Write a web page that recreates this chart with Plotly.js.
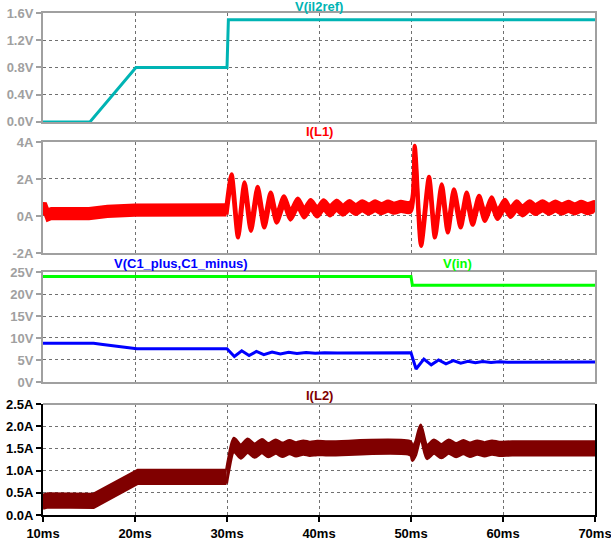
<!DOCTYPE html>
<html>
<head>
<meta charset="utf-8">
<script src="https://cdn.plot.ly/plotly-3.0.1.min.js"></script>
<style>html,body{margin:0;padding:0;background:#fff;}#chart{width:611px;height:542px;}</style>
</head>
<body>
<div id="chart"></div>
<script>
// ---- data (time in ms) ----
const xTickVals = [10, 20, 30, 40, 50, 60, 70];
const xTickText = ['10ms', '20ms', '30ms', '40ms', '50ms', '60ms', '70ms'];

const y1TickVals = [0, 0.4, 0.8, 1.2, 1.6];
const y1TickText = ['0.0V', '0.4V', '0.8V', '1.2V', '1.6V'];
const y2TickVals = [-2, 0, 2, 4];
const y2TickText = ['-2A', '0A', '2A', '4A'];
const y3TickVals = [0, 5, 10, 15, 20, 25];
const y3TickText = ['0V', '5V', '10V', '15V', '20V', '25V'];
const y4TickVals = [0, 0.5, 1.0, 1.5, 2.0, 2.5];
const y4TickText = ['0.0A', '0.5A', '1.0A', '1.5A', '2.0A', '2.5A'];

// V(il2ref)
const tIl2ref = [10, 15.1, 20.1, 30.0, 30.15, 70];
const vIl2ref = [0, 0, 0.8, 0.8, 1.5, 1.5];

// V(in)
const tVin = [10, 50.0, 50.15, 70];
const vVin = [24, 24, 22, 22];

// V(C1_plus,C1_minus)
const tVc1 = [10, 15.5, 16.5, 18, 20.2, 30.0, 30.8, 31.6, 32.4, 33.2, 34.0, 34.9, 35.8, 36.7, 37.6, 38.6, 39.6, 40.6, 42, 50.0,
              50.55, 51.4, 52.2, 53.0, 53.8, 54.6, 55.4, 56.2, 57.0, 57.8, 58.7, 59.6, 60.5, 70];
const vVc1 = [8.8, 8.8, 8.5, 8.1, 7.55, 7.55, 5.8, 7.1, 6.0, 6.95, 6.2, 6.8, 6.35, 6.75, 6.45, 6.7, 6.55, 6.65, 6.6, 6.65,
              2.95, 5.2, 3.9, 5.0, 4.1, 4.85, 4.25, 4.7, 4.35, 4.65, 4.45, 4.6, 4.5, 4.55];

// I(L1) mid-band values and switching ripple (A, peak-to-peak of band core)
const tIL1 = [10, 10.2, 10.5, 10.9, 15.0, 17.0, 20.0, 25.0, 29.95,
              30.5, 31.2, 31.9, 32.6, 33.33, 34.05, 34.75, 35.4, 36.2, 36.9, 37.7, 38.4, 39.1, 39.8, 40.5, 41.2, 41.9, 42.6,
              43.3, 44.0, 44.7, 45.4, 46.1, 46.8, 47.5, 48.2, 48.9, 49.95,
              50.4, 51.1, 51.96, 52.6, 53.34, 54.0, 54.67, 55.4, 56.05, 56.7, 57.4, 58.04, 58.77, 59.4, 60.2, 60.8, 61.5, 62.1,
              62.9, 63.5, 64.3, 65.0, 65.7, 66.4, 67.1, 67.8, 68.5, 69.2, 69.9, 70];
const iIL1 = [0.3, 0.45, 0.05, 0.13, 0.13, 0.25, 0.32, 0.33, 0.33,
              2.0, -0.92, 1.57, -0.56, 1.33, -0.38, 1.02, -0.11, 0.82, 0.05, 0.70, 0.17, 0.62, 0.22, 0.6, 0.28, 0.58, 0.32,
              0.56, 0.35, 0.55, 0.38, 0.54, 0.4, 0.53, 0.42, 0.52, 0.48,
              3.55, -1.37, 1.87, -0.92, 1.47, -0.65, 1.2, -0.38, 1.02, -0.23, 0.85, -0.02, 0.76, 0.08, 0.63, 0.2, 0.55, 0.28,
              0.55, 0.35, 0.55, 0.37, 0.53, 0.38, 0.52, 0.39, 0.52, 0.4, 0.5, 0.48];
const rippleIL1 = 0.5;

// I(L2)
const tIL2 = [10, 10.5, 15.5, 20.3, 29.95, 30.15, 30.75, 31.5, 32.25, 33.0, 33.8, 34.5, 35.3, 36.0, 36.8, 37.5, 38.3, 39.0, 39.8, 41,
              49.95, 50.15, 50.5, 51.05, 51.75, 52.5, 53.3, 54.1, 54.9, 55.7, 56.4, 57.2, 58.0, 58.8, 59.6, 61, 70];
const iIL2 = [0.3, 0.33, 0.32, 0.86, 0.86, 1.1, 1.58, 1.43, 1.56, 1.45, 1.55, 1.46, 1.54, 1.47, 1.53, 1.48, 1.52, 1.49, 1.51, 1.5,
              1.5, 1.38, 1.5, 1.88, 1.42, 1.54, 1.44, 1.54, 1.46, 1.53, 1.47, 1.52, 1.48, 1.52, 1.49, 1.5, 1.5];
const rippleIL2 = 0.3;

// ---- styles ----
const FONT = 'Liberation Sans, Arial, sans-serif';
const GREY = '#a0a0a0';
const GRID = '#707070';
const C_TEAL = '#00b4b4', C_RED = '#ff0000', C_BLUE = '#0000ff', C_GREEN = '#00ff00', C_DRED = '#800000';

function bandPart(t, c, ripple, color, xa, ya, w, shape) {
  const up = c.map(v => v + ripple / 2);
  const lo = c.map(v => v - ripple / 2);
  const ln = {color: color, width: w, shape: shape};
  if (shape === 'spline') ln.smoothing = 0.8;
  return [
    {x: t, y: up, xaxis: xa, yaxis: ya, type: 'scatter', mode: 'lines', hoverinfo: 'skip', line: ln},
    {x: t, y: lo, xaxis: xa, yaxis: ya, type: 'scatter', mode: 'lines', hoverinfo: 'skip', fill: 'tonexty', fillcolor: color, line: ln}
  ];
}
// steady start drawn straight, transient part drawn smooth
function band(t, c, ripple, color, xa, ya, w, splitT) {
  const k = t.indexOf(splitT);
  return [
    ...bandPart(t.slice(0, k + 1), c.slice(0, k + 1), ripple, color, xa, ya, w, 'linear'),
    ...bandPart(t.slice(k), c.slice(k), ripple, color, xa, ya, w, 'spline')
  ];
}

const traces = [
  {x: tIl2ref, y: vIl2ref, xaxis: 'x', yaxis: 'y', type: 'scatter', mode: 'lines', hoverinfo: 'skip',
   line: {color: C_TEAL, width: 3}},
  ...band(tIL1, iIL1, rippleIL1, C_RED, 'x2', 'y2', 4, 29.95),
  {x: tVin, y: vVin, xaxis: 'x3', yaxis: 'y3', type: 'scatter', mode: 'lines', hoverinfo: 'skip',
   line: {color: C_GREEN, width: 3}},
  {x: tVc1, y: vVc1, xaxis: 'x3', yaxis: 'y3', type: 'scatter', mode: 'lines', hoverinfo: 'skip',
   line: {color: C_BLUE, width: 3}},
  ...band(tIL2, iIL2, rippleIL2, C_DRED, 'x4', 'y4', 3, 29.95)
];

function xAx(anchor, last) {
  const a = {
    anchor: anchor, domain: [0, 1], range: [10, 70], tickvals: xTickVals, ticktext: xTickText,
    showgrid: true, gridcolor: GRID, griddash: 'dot', gridwidth: 1, zeroline: false,
    showline: true, mirror: true, linecolor: GREY, linewidth: 2,
    showticklabels: false, ticks: '', fixedrange: true
  };
  if (last) {
    a.showticklabels = true; a.ticks = 'outside'; a.ticklen = 5; a.tickwidth = 2; a.tickcolor = '#000';
    a.linecolor = '#000'; a.mirror = false; a.ticklabeloverflow = 'allow';
    a.tickfont = {family: FONT, size: 13, color: '#000', weight: 'bold'};
  } else {
    a.matches = 'x4';
  }
  return a;
}
function yAx(anchor, dom, range, tv, tt, color, lineColor) {
  return {
    anchor: anchor, domain: dom, range: range, tickvals: tv, ticktext: tt,
    showgrid: true, gridcolor: GRID, griddash: 'dot', gridwidth: 1, zeroline: false,
    showline: true, mirror: true, linecolor: lineColor, linewidth: 2,
    ticks: 'outside', ticklen: 5, tickwidth: 2, tickcolor: lineColor, ticklabeloverflow: 'allow',
    tickfont: {family: FONT, size: 13, color: color, weight: 'bold'}, fixedrange: true
  };
}

const titleFont = (c) => ({family: FONT, size: 13, color: c, weight: 'bold'});

const layout = {
  width: 611, height: 542,
  margin: {l: 43, r: 16, t: 13, b: 27, pad: 0},
  paper_bgcolor: '#ffffff', plot_bgcolor: '#ffffff',
  showlegend: false,
  font: {family: FONT, size: 13},
  xaxis: xAx('y', false),
  xaxis2: xAx('y2', false),
  xaxis3: xAx('y3', false),
  xaxis4: xAx('y4', true),
  yaxis: yAx('x', [0.783, 1], [0, 1.6], y1TickVals, y1TickText, GREY, GREY),
  yaxis2: yAx('x2', [0.522, 0.743], [-2, 4], y2TickVals, y2TickText, GREY, GREY),
  yaxis3: yAx('x3', [0.265, 0.484], [0, 25], y3TickVals, y3TickText, GREY, GREY),
  yaxis4: yAx('x4', [0, 0.221], [0, 2.5], y4TickVals, y4TickText, '#000', '#000'),
  shapes: [
    {type: 'line', xref: 'paper', x0: 0, x1: 1, yref: 'y4 domain', y0: 1, y1: 1, line: {color: GREY, width: 2}}
  ],
  annotations: [
    {text: 'V(il2ref)', xref: 'paper', x: 0.5, xanchor: 'center', yref: 'y domain', y: 1, yanchor: 'middle', yshift: 7, showarrow: false, font: titleFont(C_TEAL)},
    {text: 'I(L1)', xref: 'paper', x: 0.5, xanchor: 'center', yref: 'y2 domain', y: 1, yanchor: 'middle', yshift: 11, showarrow: false, font: titleFont(C_RED)},
    {text: 'V(C1_plus,C1_minus)', xref: 'paper', x: 0.25, xanchor: 'center', yref: 'y3 domain', y: 1, yanchor: 'middle', yshift: 9, showarrow: false, font: titleFont(C_BLUE)},
    {text: 'V(in)', xref: 'paper', x: 0.75, xanchor: 'center', yref: 'y3 domain', y: 1, yanchor: 'middle', yshift: 9, showarrow: false, font: titleFont(C_GREEN)},
    {text: 'I(L2)', xref: 'paper', x: 0.5, xanchor: 'center', yref: 'y4 domain', y: 1, yanchor: 'middle', yshift: 9, showarrow: false, font: titleFont(C_DRED)}
  ]
};

Plotly.newPlot('chart', traces, layout, {staticPlot: true, displayModeBar: false});
</script>
</body>
</html>
